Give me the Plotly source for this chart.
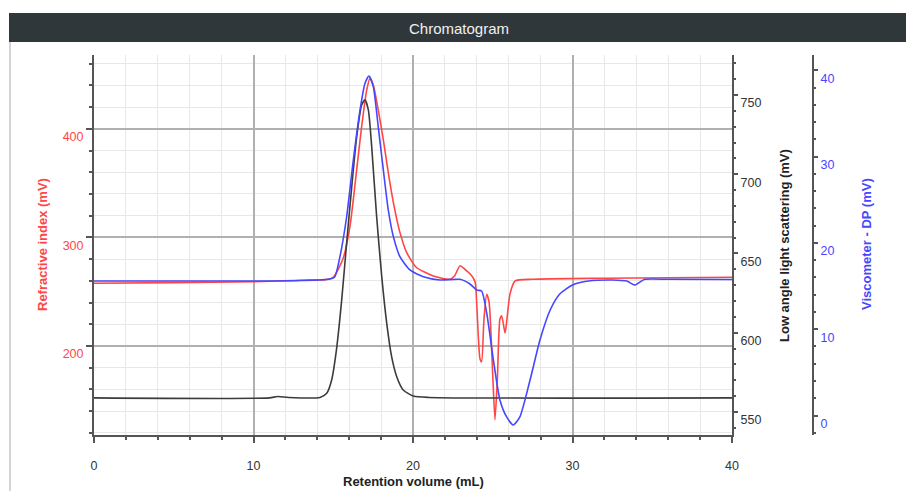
import plotly.graph_objects as go

# ---- data ----
ri_x = [0, 5, 10, 13, 14.5, 15.0, 15.6, 16.05, 16.47, 16.78, 17.1, 17.3, 17.51, 17.82, 18.14,
        18.45, 18.77, 19.18, 19.6, 20.2, 21.27, 22.3, 22.6, 22.95, 23.26, 23.68, 23.9, 24.0,
        24.2, 24.3, 24.45, 24.62, 24.77, 25.0, 25.14, 25.29, 25.45, 25.56, 25.77, 25.87,
        26.08, 26.4, 27.5, 32, 40]
ri_y = [257.8, 258.3, 259.2, 260.6, 261.0, 263.3, 279.8, 310.4, 362.4, 402.1, 435.8, 446.5,
        440.4, 417.4, 389.9, 359.6, 332.1, 304.6, 286.2, 272.5, 264.5, 261.5, 264.5, 273.9,
        270.6, 264.7, 258.7, 237.0, 188.1, 185.3, 224.8, 247.7, 240.4, 172.8, 132.1, 169.7,
        224.8, 227.8, 211.9, 222.0, 247.7, 259.9, 261.5, 262.4, 263.3]

visc_x = [0, 5, 10, 13, 14.8, 15.1, 15.42, 15.84, 16.26, 16.68, 16.99, 17.24, 17.51, 17.82,
          18.14, 18.45, 18.77, 19.18, 19.81, 20.65, 21.7, 22.95, 23.57, 24.0, 24.3, 24.62,
          25.04, 25.45, 25.87, 26.29, 26.7, 27.34, 27.96, 28.6, 29.2, 30.0, 31.0, 32.5,
          33.4, 33.9, 34.5, 36, 40]
visc_y = [15.58, 15.58, 15.58, 15.64, 15.82, 16.08, 18.40, 23.03, 29.61, 35.40, 38.49, 39.34,
          38.10, 33.46, 28.45, 23.81, 20.72, 18.40, 16.86, 16.08, 15.70, 15.78, 15.24, 14.54,
          14.43, 11.88, 6.43, 1.80, -0.17, -1.10, -0.17, 4.11, 8.75, 12.22, 14.08, 15.12,
          15.58, 15.70, 15.58, 15.12, 15.76, 15.78, 15.76]

lals_x = [0, 11, 11.5, 12.2, 14.17, 14.59, 14.9, 15.2, 15.53, 15.84, 16.16, 16.47, 16.78,
          16.99, 17.2, 17.41, 17.72, 18.04, 18.35, 18.66, 18.98, 19.39, 20.02, 21, 40]
lals_y = [558.9, 558.9, 559.8, 559.2, 559.2, 561.8, 570.2, 589.2, 620.7, 656.7, 692.2, 723.7,
          743.7, 746.9, 740.6, 717.4, 673.3, 635.4, 606.2, 584.9, 572.3, 563.9, 560.1, 559.2,
          558.9]

x_ticks = [0, 10, 20, 30, 40]
ri_ticks = [200, 300, 400]
lals_ticks = [550, 600, 650, 700, 750]
visc_ticks = [0, 10, 20, 30, 40]

W, H = 906, 491
FONT = "Liberation Sans"
RED = "rgb(255,70,70)"
BLUE = "rgb(70,70,255)"
AXC = "#555555"

def px(x):
    return x / W

def py(y):
    return 1 - y / H

xdom = [px(94), px(732)]
ydom = [py(435), py(55)]

fig = go.Figure()
fig.add_trace(go.Scatter(x=lals_x, y=lals_y, yaxis="y2", mode="lines",
                         line=dict(color="rgb(60,60,60)", width=1.6, shape="spline", smoothing=0.6),
                         showlegend=False))
fig.add_trace(go.Scatter(x=ri_x, y=ri_y, yaxis="y", mode="lines",
                         line=dict(color=RED, width=1.6, shape="spline", smoothing=0.6),
                         showlegend=False))
fig.add_trace(go.Scatter(x=visc_x, y=visc_y, yaxis="y3", mode="lines",
                         line=dict(color=BLUE, width=1.6, shape="spline", smoothing=0.6),
                         showlegend=False))

fig.update_layout(
    width=W, height=H,
    margin=dict(l=0, r=0, t=0, b=0),
    paper_bgcolor="white", plot_bgcolor="white",
    font=dict(family=FONT, size=12, color="#333"),
    xaxis=dict(domain=xdom, range=[0, 40], anchor="y", tickvals=x_ticks,
               ticks="outside", ticklen=6, tickcolor=AXC, tickwidth=1.5,
               showline=True, linecolor=AXC, linewidth=2,
               showgrid=True, gridcolor="#b0b0b0", gridwidth=1.5, zeroline=False,
               ticklabelstandoff=12, tickfont=dict(size=12.5, color="#333"),
               minor=dict(dtick=2, ticks="outside", ticklen=3, tickcolor=AXC,
                          showgrid=True, gridcolor="#e8e8e8", gridwidth=1),
               automargin=False),
    yaxis=dict(domain=ydom, range=[118, 468], anchor="x", side="left", tickvals=ri_ticks,
               ticks="outside", ticklen=6, tickcolor=AXC, tickwidth=1.5,
               showline=True, linecolor=AXC, linewidth=2,
               showgrid=True, gridcolor="#b0b0b0", gridwidth=1.5, zeroline=False,
               tickfont=dict(size=12.5, color=RED), ticklabelshift=8,
               minor=dict(dtick=20, tick0=0, ticks="outside", ticklen=3, tickcolor=AXC,
                          showgrid=True, gridcolor="#e8e8e8", gridwidth=1),
               automargin=False),
    yaxis2=dict(domain=ydom, range=[535.5, 775.2], anchor="x", overlaying="y", side="right",
                tickvals=lals_ticks, ticks="outside", ticklen=4, tickcolor=AXC, tickwidth=1.5,
                showline=True, linecolor=AXC, linewidth=2, showgrid=False, zeroline=False,
                tickfont=dict(size=12.5, color="#333"), ticklabelshift=8,
                minor=dict(dtick=10, tick0=0, ticks="outside", ticklen=2, tickcolor=AXC),
                automargin=False),
    yaxis3=dict(domain=ydom, range=[-2.26, 41.77], anchor="free", overlaying="y", side="right",
                position=px(813), tickvals=visc_ticks, ticks="outside", ticklen=4,
                tickcolor=AXC, tickwidth=1.5,
                showline=True, linecolor=AXC, linewidth=2, showgrid=False, zeroline=False,
                tickfont=dict(size=12.5, color=BLUE), ticklabelshift=8,
                minor=dict(dtick=2, tick0=0, ticks="outside", ticklen=2, tickcolor=AXC),
                automargin=False),
)

# panel decorations: title bar and frame
fig.add_shape(type="rect", xref="paper", yref="paper", x0=px(9), x1=1.0, y0=py(42), y1=py(13),
              fillcolor="#30373a", line=dict(width=0), layer="below")
fig.add_shape(type="line", xref="paper", yref="paper", x0=px(10), x1=px(10), y0=0, y1=py(42),
              line=dict(color="#d4d4d4", width=2), layer="below")

def ann(text, x, y, size, color, angle=0):
    fig.add_annotation(text=text, xref="paper", yref="paper", x=px(x), y=py(y),
                       xanchor="center", yanchor="middle", textangle=angle,
                       showarrow=False, font=dict(family=FONT, size=size, color=color))

ann("Chromatogram", 459, 28, 15, "#f0f0f0")
ann("<b>Refractive index (mV)</b>", 42, 245, 13, RED, -90)
ann("<b>Low angle light scattering (mV)</b>", 785, 246, 13, "#222", -90)
ann("<b>Viscometer - DP (mV)</b>", 866, 244, 13, BLUE, -90)
ann("<b>Retention volume (mL)</b>", 413, 481, 13, "#222")

fig.write_html("out.html")
